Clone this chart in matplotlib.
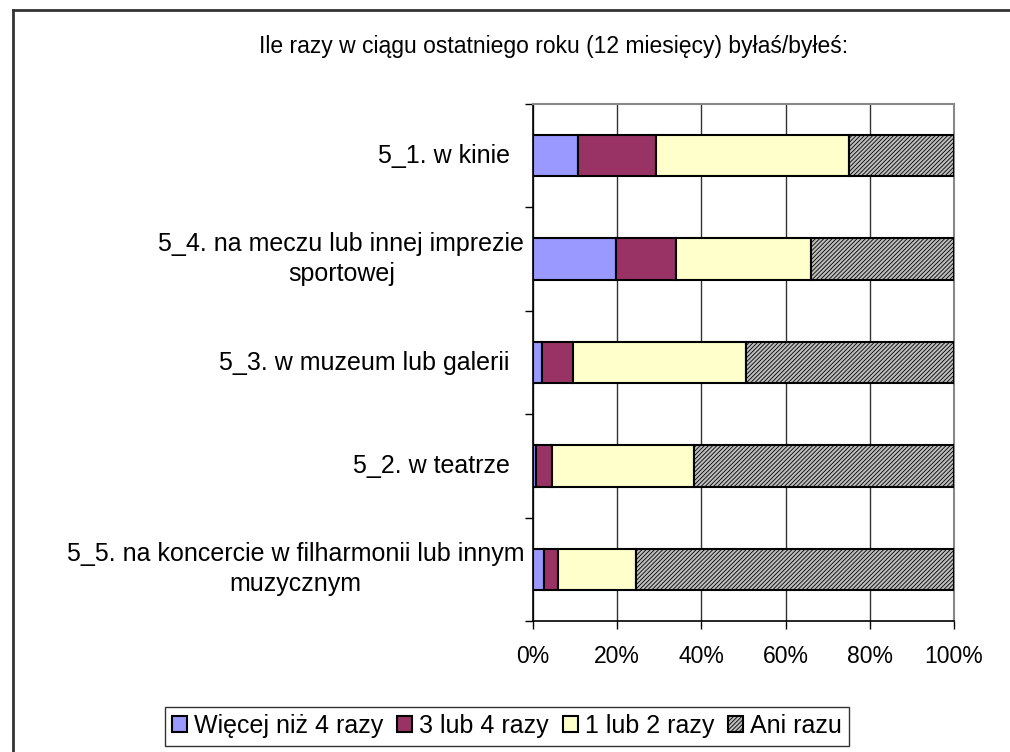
import numpy as np
import matplotlib
matplotlib.use('Agg')
import matplotlib.pyplot as plt
from matplotlib.lines import Line2D

plt.rcParams['font.family'] = ['Liberation Sans', 'DejaVu Sans']
plt.rcParams['hatch.linewidth'] = 0.6
plt.rcParams['hatch.color'] = '#333333'

title = 'Ile razy w ciągu ostatniego roku (12 miesięcy) byłaś/byłeś:'

categories = [
    '5_1. w kinie',
    '5_4. na meczu lub innej imprezie\nsportowej',
    '5_3. w muzeum lub galerii',
    '5_2. w teatrze',
    '5_5. na koncercie w filharmonii lub innym\nmuzycznym',
]

series_names = ['Więcej niż 4 razy', '3 lub 4 razy', '1 lub 2 razy', 'Ani razu']

more_than_4 = [10.8, 19.8, 2.1, 0.6, 2.6]
three_or_four = [18.5, 14.2, 7.3, 4.0, 3.4]
one_or_two = [45.7, 32.0, 41.3, 33.7, 18.4]
never = [25.0, 34.0, 49.3, 61.7, 75.6]

xtick_labels = ['0%', '20%', '40%', '60%', '80%', '100%']


def draw_bars(ax):
    y = np.arange(len(categories))
    left = np.zeros(len(categories))
    styles = [
        dict(color='#9999FF'),
        dict(color='#993366'),
        dict(color='#FFFFCC'),
        dict(color='#BDBDBD', hatch='////////'),
    ]
    for name, vals, st in zip(series_names, [more_than_4, three_or_four, one_or_two, never], styles):
        vals = np.array(vals)
        ax.barh(y, vals, left=left, height=0.4, color=st['color'],
                edgecolor='black', linewidth=1.5, hatch=st.get('hatch'),
                label=name, zorder=3)
        left = left + vals
    return y


def main():
    fig = plt.figure(figsize=(10.1, 7.52), dpi=100)
    ax = fig.add_axes([533 / 1010, 1 - 621 / 752, 421 / 1010, 517 / 752])

    y = draw_bars(ax)

    ax.set_xlim(0, 100)
    ax.set_ylim(len(categories) - 0.5, -0.5)
    ax.set_xticks(np.arange(0, 101, 20))
    ax.set_xticklabels(xtick_labels, fontsize=16.5)
    ax.tick_params(axis='x', length=6, width=1, pad=11, colors='black')
    ax.xaxis.grid(True, color='#333333', linewidth=1, zorder=0)

    ax.set_yticks(np.arange(-0.5, len(categories), 1))
    ax.set_yticklabels([])
    ax.tick_params(axis='y', length=6, width=1)

    for yi, lab in zip(y, categories):
        xoff = -0.021 if '\n' in lab else -0.055
        ax.text(xoff, yi, lab, transform=ax.get_yaxis_transform(), ha='right',
                va='center', multialignment='center', fontsize=18, linespacing=1.3)

    for side in ['top', 'right']:
        ax.spines[side].set_color('#888888')
        ax.spines[side].set_linewidth(1.5)
    for side in ['left', 'bottom']:
        ax.spines[side].set_color('black')
        ax.spines[side].set_linewidth(1.2)

    fig.text(554 / 1010, 1 - 47 / 752, title, ha='center', va='center', fontsize=16.5)

    leg = fig.legend(loc='center', bbox_to_anchor=(507 / 1010, 1 - 726 / 752), ncol=4,
                     fontsize=18, frameon=True, fancybox=False, edgecolor='black',
                     handlelength=0.6, handleheight=0.6, handletextpad=0.28,
                     columnspacing=0.55, borderpad=0.3, borderaxespad=0)
    leg.get_frame().set_linewidth(1)

    # outer chart frame
    fig.add_artist(Line2D([13 / 1010, 1], [1 - 10 / 752, 1 - 10 / 752], color='#333333',
                          linewidth=2, transform=fig.transFigure))
    fig.add_artist(Line2D([13 / 1010, 13 / 1010], [0, 1 - 10 / 752], color='#333333',
                          linewidth=2, transform=fig.transFigure))

    fig.savefig('out.png', dpi=100)


if __name__ == '__main__':
    main()
